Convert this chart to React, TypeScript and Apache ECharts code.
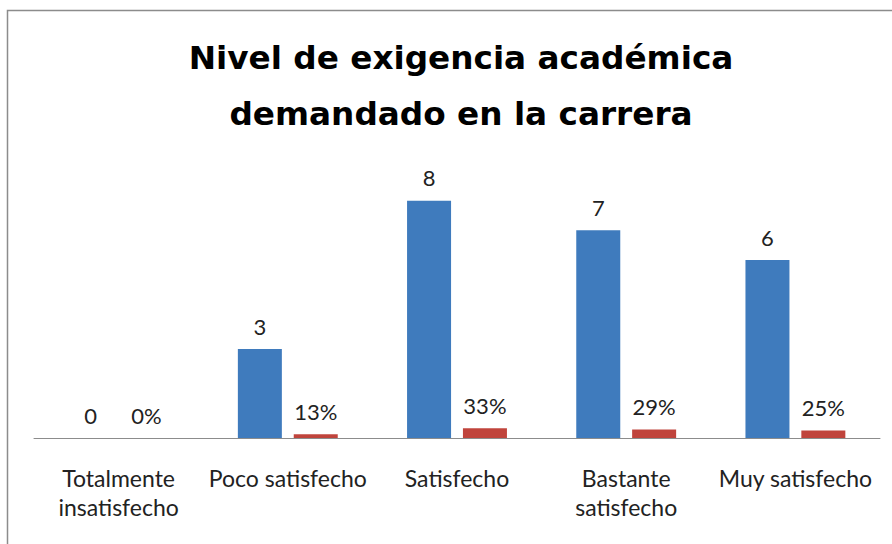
import React, { useEffect, useRef } from "react";
import * as echarts from "echarts";

const categories = [
  "Totalmente\ninsatisfecho",
  "Poco satisfecho",
  "Satisfecho",
  "Bastante\nsatisfecho",
  "Muy satisfecho",
];
const counts = [0, 3, 8, 7, 6];
const shares = [0, 0.13, 0.33, 0.29, 0.25];
const titleText = "Nivel de exigencia académica\ndemandado en la carrera";

const FONT = "Lato, 'Open Sans', 'Liberation Sans', sans-serif";
const TITLE_FONT = "'DejaVu Sans', 'Open Sans', sans-serif";

export default function App() {
  const ref = useRef<HTMLDivElement>(null);
  useEffect(() => {
    document.body.style.margin = "0";
    const chart = echarts.init(ref.current!, undefined, { renderer: "svg" });
    chart.setOption({
      animation: false,
      backgroundColor: "#ffffff",
      title: {
        text: titleText,
        left: 456,
        top: 25,
        textAlign: "center",
        textStyle: {
          fontFamily: TITLE_FONT,
          fontSize: 32.7,
          fontWeight: "bold",
          color: "#000000",
          lineHeight: 56,
        },
      },
      graphic: [
        {
          type: "rect",
          shape: { x: 7.5, y: 10.5, width: 1000, height: 1000 },
          style: { fill: "none", stroke: "#8c8c8c", lineWidth: 1.5 },
          silent: true,
          z: -1,
        },
      ],
      grid: { left: 34, right: 12, top: 171, bottom: 106 },
      xAxis: {
        type: "category",
        data: categories,
        axisLine: { lineStyle: { color: "#8c8c8c", width: 1 } },
        axisTick: { show: false },
        axisLabel: {
          interval: 0,
          margin: 25,
          fontFamily: FONT,
          fontSize: 23,
          color: "#222222",
          lineHeight: 29,
        },
      },
      yAxis: {
        type: "value",
        min: 0,
        max: 9,
        show: false,
        splitLine: { show: false },
      },
      series: [
        {
          type: "bar",
          data: counts,
          barWidth: 44,
          barGap: "27%",
          itemStyle: { color: "#3F7BBD" },
          label: {
            show: true,
            position: "top",
            distance: 12,
            fontFamily: FONT,
            fontSize: 22,
            color: "#222222",
          },
        },
        {
          type: "bar",
          data: shares,
          barWidth: 44,
          barGap: "27%",
          itemStyle: { color: "#C0443C" },
          label: {
            show: true,
            position: "top",
            distance: 12,
            fontFamily: FONT,
            fontSize: 22,
            color: "#222222",
            formatter: (p: any) => Math.round(p.value * 100) + "%",
          },
        },
      ],
    });
    return () => chart.dispose();
  }, []);
  return <div ref={ref} style={{ width: 892, height: 544 }} />;
}
